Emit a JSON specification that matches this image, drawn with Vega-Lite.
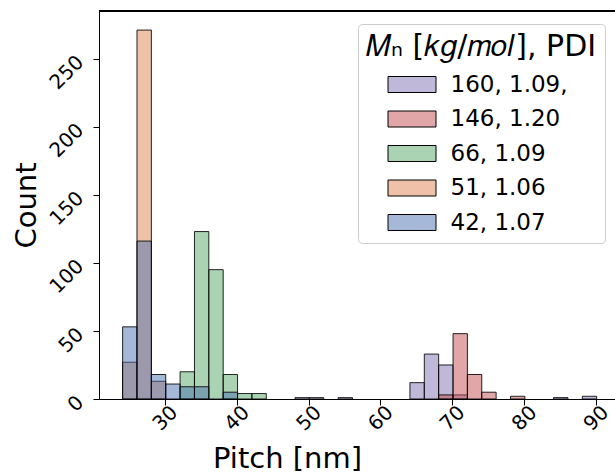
{
  "$schema": "https://vega.github.io/schema/vega-lite/v6.json",
  "autosize": "none",
  "width": 516,
  "height": 388,
  "padding": {"left": 99, "top": 11, "right": 0, "bottom": 76},
  "background": "white",
  "config": {
    "font": "DejaVu Sans",
    "view": {"stroke": null},
    "axis": {
      "grid": false,
      "domainColor": "black",
      "tickColor": "black",
      "labelColor": "black",
      "titleColor": "black",
      "tickSize": 6,
      "labelFontSize": 20,
      "titleFontSize": 29,
      "titleFontWeight": "normal",
      "labelAngle": -45
    }
  },
  "data": {
    "values": [
      {"sample": "160, 1.09,", "start": 48.1, "end": 50.1, "count": 1},
      {"sample": "160, 1.09,", "start": 50.1, "end": 52.1, "count": 1},
      {"sample": "160, 1.09,", "start": 54.1, "end": 56.1, "count": 1},
      {"sample": "160, 1.09,", "start": 64.1, "end": 66.1, "count": 12},
      {"sample": "160, 1.09,", "start": 66.1, "end": 68.1, "count": 33},
      {"sample": "160, 1.09,", "start": 68.1, "end": 70.1, "count": 25},
      {"sample": "160, 1.09,", "start": 70.1, "end": 72.1, "count": 3},
      {"sample": "160, 1.09,", "start": 84.1, "end": 86.1, "count": 1},
      {"sample": "160, 1.09,", "start": 88.1, "end": 90.1, "count": 2},
      {"sample": "146, 1.20", "start": 68.1, "end": 70.1, "count": 3},
      {"sample": "146, 1.20", "start": 70.1, "end": 72.1, "count": 48},
      {"sample": "146, 1.20", "start": 72.1, "end": 74.1, "count": 18},
      {"sample": "146, 1.20", "start": 74.1, "end": 76.1, "count": 5},
      {"sample": "146, 1.20", "start": 78.1, "end": 80.1, "count": 2},
      {"sample": "66, 1.09", "start": 32.1, "end": 34.1, "count": 20},
      {"sample": "66, 1.09", "start": 34.1, "end": 36.1, "count": 123},
      {"sample": "66, 1.09", "start": 36.1, "end": 38.1, "count": 95},
      {"sample": "66, 1.09", "start": 38.1, "end": 40.1, "count": 18},
      {"sample": "66, 1.09", "start": 40.1, "end": 42.1, "count": 4},
      {"sample": "66, 1.09", "start": 42.1, "end": 44.1, "count": 4},
      {"sample": "51, 1.06", "start": 24.1, "end": 26.1, "count": 27},
      {"sample": "51, 1.06", "start": 26.1, "end": 28.1, "count": 271},
      {"sample": "51, 1.06", "start": 28.1, "end": 30.1, "count": 13},
      {"sample": "42, 1.07", "start": 24.1, "end": 26.1, "count": 53},
      {"sample": "42, 1.07", "start": 26.1, "end": 28.1, "count": 116},
      {"sample": "42, 1.07", "start": 28.1, "end": 30.1, "count": 18},
      {"sample": "42, 1.07", "start": 30.1, "end": 32.1, "count": 11},
      {"sample": "42, 1.07", "start": 32.1, "end": 34.1, "count": 9},
      {"sample": "42, 1.07", "start": 34.1, "end": 36.1, "count": 9},
      {"sample": "42, 1.07", "start": 38.1, "end": 40.1, "count": 5}
    ]
  },
  "layer": [
    {
      "mark": {"type": "bar", "stroke": "black", "strokeWidth": 1, "strokeOpacity": 0.85, "fillOpacity": 0.5},
      "encoding": {
        "x": {
          "field": "start", "type": "quantitative",
          "scale": {"domain": [20.81, 92.65], "nice": false, "zero": false},
          "axis": {
            "values": [30, 40, 50, 60, 70, 80, 90],
            "title": "Pitch [nm]",
            "labelAlign": "center",
            "labelBaseline": "middle",
            "labelPadding": 13,
            "titleX": 188,
            "titleY": 68,
            "titleBaseline": "alphabetic",
            "titleAlign": "center"
          }
        },
        "x2": {"field": "end"},
        "y": {
          "field": "count", "type": "quantitative", "stack": null,
          "scale": {"domain": [0, 285], "nice": false},
          "axis": {
            "values": [0, 50, 100, 150, 200, 250],
            "title": "Count",
            "labelAlign": "right",
            "labelBaseline": "middle",
            "labelPadding": 13,
            "titleX": -64,
            "titleBaseline": "alphabetic",
            "titleAngle": -90
          }
        },
        "y2": {"datum": 0},
        "fill": {
          "field": "sample", "type": "nominal",
          "scale": {
            "domain": ["160, 1.09,", "146, 1.20", "66, 1.09", "51, 1.06", "42, 1.07"],
            "range": ["#8172B3", "#C44E52", "#55A868", "#DD8452", "#4C72B0"]
          },
          "legend": {
            "title": "𝑀ₙ [𝑘𝑔/𝑚𝑜𝑙], PDI",
            "orient": "none",
            "legendX": 259,
            "legendY": 13,
            "padding": 8,
            "fillColor": "rgba(255,255,255,0.85)",
            "strokeColor": "#cccccc",
            "cornerRadius": 4,
            "titleFontSize": 30,
            "titleFontWeight": "normal",
            "titleColor": "black",
            "titleAnchor": "start",
            "titlePadding": 11,
            "titleLimit": 400,
            "labelFontSize": 23,
            "labelColor": "black",
            "labelLimit": 300,
            "symbolType": "M-3,-1H3V1H-3Z",
            "symbolSize": 256,
            "symbolStrokeWidth": 1,
            "symbolStrokeColor": "black",
            "symbolOffset": 34.5,
            "labelOffset": 27,
            "rowPadding": 10.5,
            "encode": {
              "symbols": {"update": {"fillOpacity": {"value": 0.5}, "stroke": {"value": "black"}, "strokeWidth": {"value": 1}}}
            }
          }
        }
      }
    },
    {
      "mark": {"type": "rule", "color": "black", "strokeWidth": 1},
      "encoding": {"y": {"datum": 285}}
    }
  ]
}
